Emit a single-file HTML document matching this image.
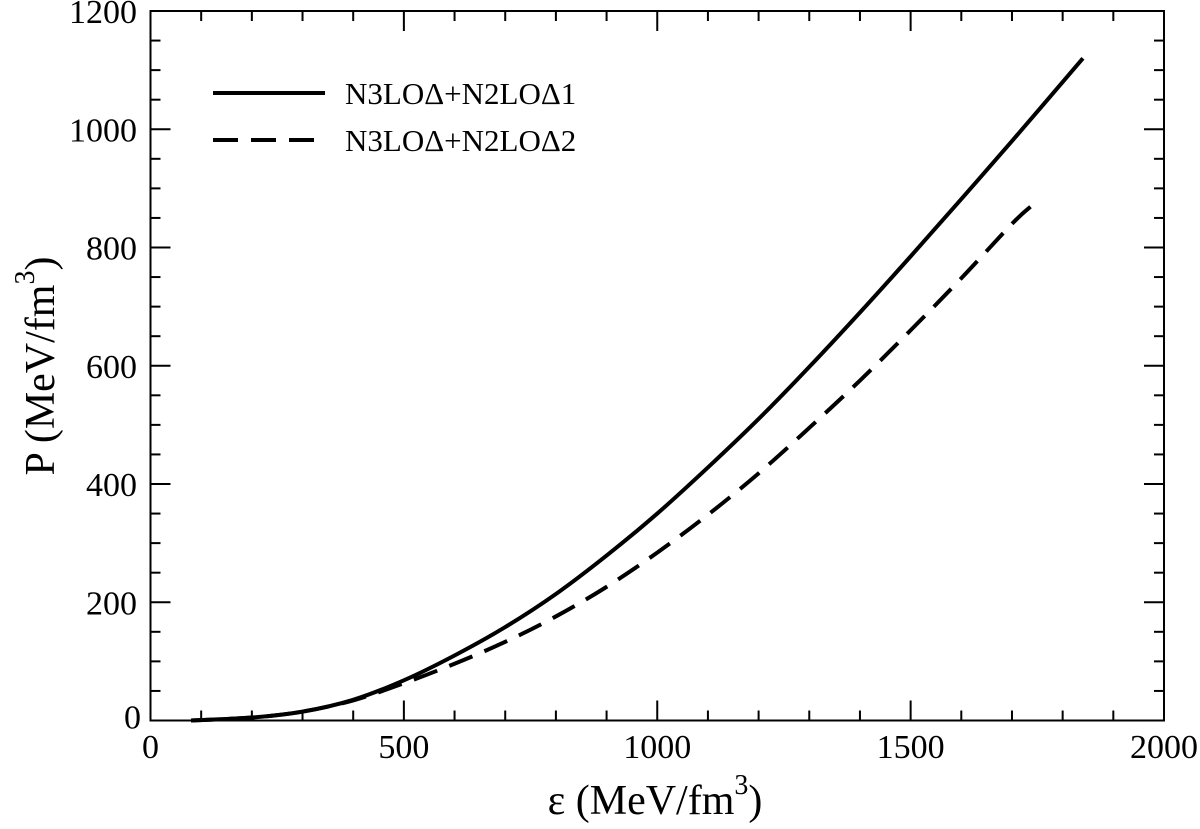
<!DOCTYPE html>
<html><head><meta charset="utf-8"><style>
body{margin:0;background:#fff}
svg text{font-family:"Liberation Serif",serif;fill:#000}
</style></head><body>
<svg id="chart" width="1200" height="824">
<g id="axes"></g>
<g id="series"></g>
<g>
  <line x1="213" y1="93" x2="325" y2="93" stroke="#000" stroke-width="4"/>
  <text x="345" y="104" font-size="31">N3LOΔ+N2LOΔ1</text>
  <line x1="213" y1="140" x2="325" y2="140" stroke="#000" stroke-width="4" stroke-dasharray="25,13"/>
  <text x="345" y="151" font-size="31">N3LOΔ+N2LOΔ2</text>
</g>
<text x="655" y="814" font-size="42" text-anchor="middle">ε (MeV/fm<tspan dy="-20" font-size="28">3</tspan><tspan dy="20">)</tspan></text>
<text transform="translate(54,366) rotate(-90)" font-size="42" text-anchor="middle">P (MeV/fm<tspan dy="-20" font-size="28">3</tspan><tspan dy="20">)</tspan></text>
</svg>
<script>
const xTicks=[0,500,1000,1500,2000];
const yTicks=[0,200,400,600,800,1000,1200];
const eps1=[80,200,300,400,500,600,700,800,900,1000,1100,1200,1300,1400,1500,1600,1700,1840];
const p1=[0,5,15,35,68,110,158,214,279,350,428,510,598,690,785,882,980,1120];
const eps2=[80,200,300,400,500,600,700,800,900,1000,1100,1200,1300,1400,1500,1600,1700,1738];
const p2=[0,5,15,34,63,96,133,176,226,284,348,418,495,575,660,748,840,870];
const L=150.5,R=1164,T=11,B=720.5;
const X=v=>L+(R-L)*v/2000, Y=v=>B-(B-T)*v/1200;
const NS='http://www.w3.org/2000/svg';
const ax=document.getElementById('axes'), se=document.getElementById('series');
function mk(p,tag,a){const e=document.createElementNS(NS,tag);for(const k in a)e.setAttribute(k,a[k]);p.appendChild(e);return e;}
const fr=mk(ax,'rect',{x:L,y:T,width:R-L,height:B-T,fill:'none',stroke:'#000','stroke-width':2});


for(let v=0;v<=2000;v+=100){const maj=v%500==0,l=maj?20:10;
 mk(ax,'line',{x1:X(v),x2:X(v),y1:B,y2:B-l,stroke:'#000','stroke-width':2});
 mk(ax,'line',{x1:X(v),x2:X(v),y1:T,y2:T+l,stroke:'#000','stroke-width':2});}
for(let v=0;v<=1200;v+=50){const maj=v%200==0,l=maj?20:10;
 mk(ax,'line',{x1:L,x2:L+l,y1:Y(v),y2:Y(v),stroke:'#000','stroke-width':2});
 mk(ax,'line',{x1:R,x2:R-l,y1:Y(v),y2:Y(v),stroke:'#000','stroke-width':2});}
xTicks.forEach(v=>{const t=mk(ax,'text',{x:X(v),y:758,'font-size':34,'text-anchor':'middle'});t.textContent=v;
 
 });
yTicks.forEach(v=>{const t=mk(ax,'text',{x:v==0?141:137,y:Y(v)+(v==0?8:12),'font-size':34,'text-anchor':'end'});t.textContent=v;
 
 });
function path(xs,ys){const pts=xs.map((x,i)=>[X(x),Y(ys[i])]);
 let d='M'+pts[0].join(',');
 for(let i=0;i<pts.length-1;i++){const p0=pts[Math.max(0,i-1)],p1=pts[i],p2=pts[i+1],p3=pts[Math.min(pts.length-1,i+2)];
  const c1=[p1[0]+(p2[0]-p0[0])/6,p1[1]+(p2[1]-p0[1])/6],c2=[p2[0]-(p3[0]-p1[0])/6,p2[1]-(p3[1]-p1[1])/6];
  d+=' C'+c1.join(',')+' '+c2.join(',')+' '+p2.join(',');}
 return d;}
const s1=mk(se,'path',{d:path(eps1,p1),fill:'none',stroke:'#000','stroke-width':4});


const s2=mk(se,'path',{d:path(eps2,p2),fill:'none',stroke:'#000','stroke-width':4,'stroke-dasharray':'25,13'});


</script>
</body></html>
